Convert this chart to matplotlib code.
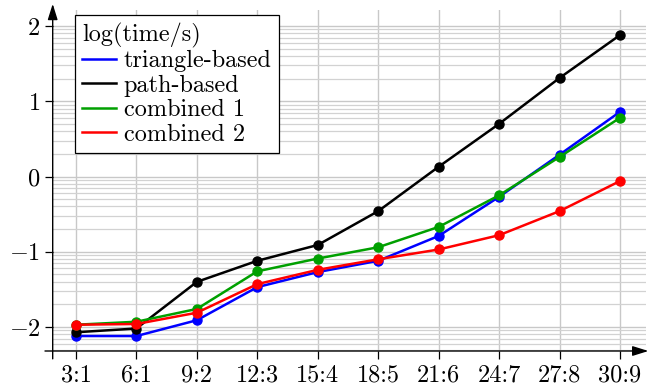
import numpy as np
import matplotlib
matplotlib.use("Agg")
from matplotlib import pyplot as plt
from matplotlib.lines import Line2D

# ratios on the x axis, values are log10(time/s)
ratios = ["3:1", "6:1", "9:2", "12:3", "15:4", "18:5", "21:6", "24:7", "27:8", "30:9"]
triangle_based = [-2.12, -2.12, -1.91, -1.47, -1.27, -1.12, -0.79, -0.27, 0.29, 0.86]
path_based = [-2.07, -2.02, -1.40, -1.12, -0.91, -0.46, 0.13, 0.70, 1.31, 1.88]
combined_1 = [-1.97, -1.93, -1.76, -1.26, -1.09, -0.94, -0.67, -0.25, 0.26, 0.78]
combined_2 = [-1.97, -1.96, -1.81, -1.43, -1.24, -1.10, -0.97, -0.78, -0.46, -0.06]
series_names = ["triangle-based", "path-based", "combined 1", "combined 2"]
series_colors = ["#0000ff", "#000000", "#00a000", "#ff0000"]
y_major = [-2, -1, 0, 1, 2]
legend_title = "log(time/s)"

plt.rcParams.update({
    "font.family": "serif",
    "font.serif": ["cmr10"],
    "mathtext.fontset": "cm",
    "font.size": 17.5,
})

fig = plt.figure(figsize=(6.48, 3.91), dpi=100)
ax = fig.add_axes([52.7 / 648, 40 / 391, 593.3 / 648, 341 / 391])

x = np.arange(len(ratios))
all_series = [triangle_based, path_based, combined_1, combined_2]
for values, name, color in zip(all_series, series_names, series_colors):
    ax.plot(x, values, color=color, lw=1.8, marker="o", ms=6.5, label=name, zorder=3)

ax.set_xlim(-0.385, 9.43)
ax.set_ylim(-2.319, 2.213)

# log-style minor grid between integer exponents
minor = [n + np.log10(k) for n in range(-3, 3) for k in range(2, 10)]
minor = [m for m in minor if -2.319 <= m <= 2.213]
ax.set_yticks(y_major)
ax.set_yticklabels([f"${v}$" if v >= 0 else f"$-{abs(v)}$" for v in y_major])
ax.set_yticks(minor, minor=True)
ax.set_xticks(x)
ax.set_xticklabels(ratios)

ax.tick_params(which="major", direction="out", length=5.8, width=0.9, color="black")
ax.tick_params(axis="y", which="major", pad=3)
ax.tick_params(axis="x", which="major", pad=4)
ax.tick_params(which="minor", length=0)

ax.grid(True, which="major", color="#c8c8c8", lw=1.0)
ax.grid(True, which="minor", axis="y", color="#d2d2d2", lw=0.9)
ax.set_axisbelow(True)

for spine in ax.spines.values():
    spine.set_visible(False)

arrow = dict(arrowstyle="-|>,head_length=0.8,head_width=0.25", color="black",
             lw=1.0, mutation_scale=12, shrinkA=0, shrinkB=0)
ax.annotate("", xy=(0, 1.018), xytext=(0, -0.023), xycoords="axes fraction",
            arrowprops=arrow, annotation_clip=False)
ax.annotate("", xy=(1.004, 0), xytext=(-0.013, 0), xycoords="axes fraction",
            arrowprops=arrow, annotation_clip=False)

handles = [Line2D([], [], color=c, lw=1.8) for c in series_colors]
leg = ax.legend(handles, series_names, title=legend_title, loc="upper left",
                bbox_to_anchor=(0.0376, 0.985), borderaxespad=0, fancybox=False,
                edgecolor="black", framealpha=1, handlelength=1.4, handletextpad=0.3,
                labelspacing=0.1, borderpad=0.3, alignment="left",
                title_fontsize=17.5, fontsize=17.5)
leg.get_frame().set_linewidth(0.9)
leg.set_zorder(5)

fig.savefig("out.png", dpi=100)
